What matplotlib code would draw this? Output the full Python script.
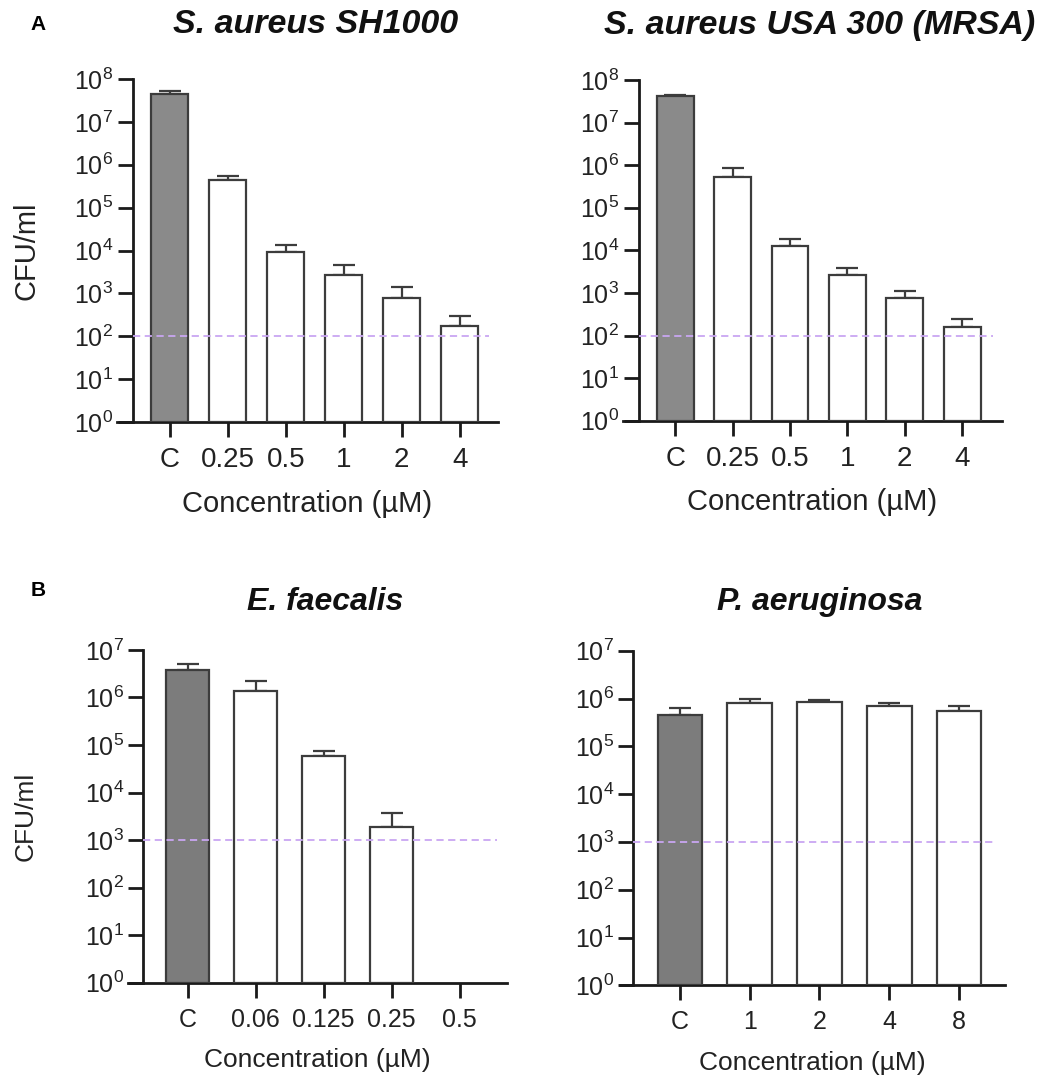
import matplotlib
matplotlib.use("Agg")
import matplotlib.pyplot as plt
from matplotlib.ticker import FixedLocator, NullLocator

plt.rcParams["font.family"] = ["Liberation Sans", "DejaVu Sans"]
plt.rcParams["mathtext.fontset"] = "custom"
plt.rcParams["mathtext.rm"] = "Liberation Sans"
plt.rcParams["mathtext.it"] = "Liberation Sans:italic"
plt.rcParams["mathtext.bf"] = "Liberation Sans:bold"

## --- data (CFU/ml, mean and upper error bar tip)
SH1000_LABELS = ["C", "0.25", "0.5", "1", "2", "4"]
SH1000_MEAN = [4.4e7, 4.3e5, 9.0e3, 2.7e3, 7.6e2, 1.76e2]
SH1000_UPPER = [5.3e7, 5.5e5, 1.34e4, 4.6e3, 1.38e3, 3.0e2]

USA300_LABELS = ["C", "0.25", "0.5", "1", "2", "4"]
USA300_MEAN = [4.2e7, 5.2e5, 1.28e4, 2.6e3, 7.5e2, 1.6e2]
USA300_UPPER = [4.5e7, 8.7e5, 1.85e4, 3.9e3, 1.1e3, 2.4e2]

EFAEC_LABELS = ["C", "0.06", "0.125", "0.25", "0.5"]
EFAEC_MEAN = [3.8e6, 1.34e6, 6.0e4, 1.86e3, 0.0]
EFAEC_UPPER = [5.1e6, 2.2e6, 7.5e4, 3.8e3, 0.0]

PAERU_LABELS = ["C", "1", "2", "4", "8"]
PAERU_MEAN = [4.5e5, 7.9e5, 8.6e5, 7.1e5, 5.5e5]
PAERU_UPPER = [6.2e5, 1.0e6, 9.5e5, 7.9e5, 6.9e5]

DETECTION_LIMIT_A = 1e2
DETECTION_LIMIT_B = 1e3

EDGE = "#3c3c3c"
CTRL_FILL_A = "#8a8a8a"
CTRL_FILL_B = "#7c7c7c"
LOD_COLOR = "#c9a6f2"
TEXT = "#222222"


def draw_panel(ax, title, labels, means, uppers, top_exp, lod, xlim, yaxis_x,
               xtick_fs, label_fs, title_fs, title_pad, ctrl_fill):
    xs = list(range(len(labels)))
    for x, m, u in zip(xs, means, uppers):
        if m <= 0:
            continue
        fill = ctrl_fill if x == 0 else "white"
        ax.bar(x, m, width=0.64, bottom=1, color=fill, edgecolor=EDGE,
               linewidth=1.6, zorder=3)
        ax.errorbar(x, m, yerr=[[0], [u - m]], fmt="none", ecolor=EDGE,
                    elinewidth=1.6, capsize=8, capthick=1.6, zorder=2)
    ax.plot([yaxis_x, xlim[1] - 0.15], [lod, lod], linestyle=(0, (4, 2.5)),
            color=LOD_COLOR, linewidth=1.3, zorder=4)
    ax.set_yscale("log")
    ax.set_ylim(1, 10 ** top_exp)
    ax.set_xlim(*xlim)
    ax.yaxis.set_major_locator(FixedLocator([10 ** k for k in range(top_exp + 1)]))
    ax.yaxis.set_minor_locator(NullLocator())
    ax.set_yticklabels([rf"$\mathregular{{10^{{{k}}}}}$" for k in range(top_exp + 1)])
    ax.set_xticks(xs)
    ax.set_xticklabels(labels)
    for side in ("top", "right"):
        ax.spines[side].set_visible(False)
    ax.spines["left"].set_position(("data", yaxis_x))
    for side in ("left", "bottom"):
        ax.spines[side].set_linewidth(2.0)
        ax.spines[side].set_color("#1a1a1a")
    ax.tick_params(axis="y", length=11, width=2.0, pad=3, labelsize=18,
                   color="#1a1a1a", labelcolor=TEXT)
    ax.tick_params(axis="x", length=11, width=2.0, pad=7, labelsize=xtick_fs,
                   color="#1a1a1a", labelcolor=TEXT)
    ax.set_xlabel("Concentration (µM)", fontsize=label_fs, color=TEXT, labelpad=12)
    ax.set_title(title, fontsize=title_fs, fontweight="bold", style="italic",
                 pad=title_pad, color="#111111", x=0.52)


def main() -> None:
    fig = plt.figure(figsize=(10.45, 10.77), dpi=100)

    ax_a1 = fig.add_axes([0.1120, 0.6082, 0.3646, 0.3184])
    ax_a2 = fig.add_axes([0.5962, 0.6094, 0.3624, 0.3163])
    ax_b1 = fig.add_axes([0.1228, 0.0876, 0.3621, 0.3089])
    ax_b2 = fig.add_axes([0.5933, 0.0851, 0.3684, 0.3107])

    draw_panel(ax_a1, "S. aureus SH1000", SH1000_LABELS, SH1000_MEAN, SH1000_UPPER,
               8, DETECTION_LIMIT_A, (-0.91, 5.66), -0.64, 20, 21, 24.5, 33, CTRL_FILL_A)
    draw_panel(ax_a2, "S. aureus USA 300 (MRSA)", USA300_LABELS, USA300_MEAN, USA300_UPPER,
               8, DETECTION_LIMIT_A, (-0.91, 5.69), -0.64, 20, 21, 24.5, 33, CTRL_FILL_A)
    draw_panel(ax_b1, "E. faecalis", EFAEC_LABELS, EFAEC_MEAN, EFAEC_UPPER,
               7, DETECTION_LIMIT_B, (-0.87, 4.69), -0.65, 18, 19, 23, 29, CTRL_FILL_B)
    draw_panel(ax_b2, "P. aeruginosa", PAERU_LABELS, PAERU_MEAN, PAERU_UPPER,
               7, DETECTION_LIMIT_B, (-0.86, 4.66), -0.67, 18, 19, 23, 29, CTRL_FILL_B)

    ax_a1.set_ylabel("CFU/ml", fontsize=21, color=TEXT, labelpad=24)
    ax_b1.set_ylabel("CFU/ml", fontsize=19, color=TEXT, labelpad=34)

    fig.text(38 / 1045, 1 - 25 / 1077, "A", fontsize=15, fontweight="bold",
             ha="center", va="center")
    fig.text(38 / 1045, 1 - 591 / 1077, "B", fontsize=15, fontweight="bold",
             ha="center", va="center")

    fig.savefig("out.png", dpi=100)


if __name__ == "__main__":
    main()
